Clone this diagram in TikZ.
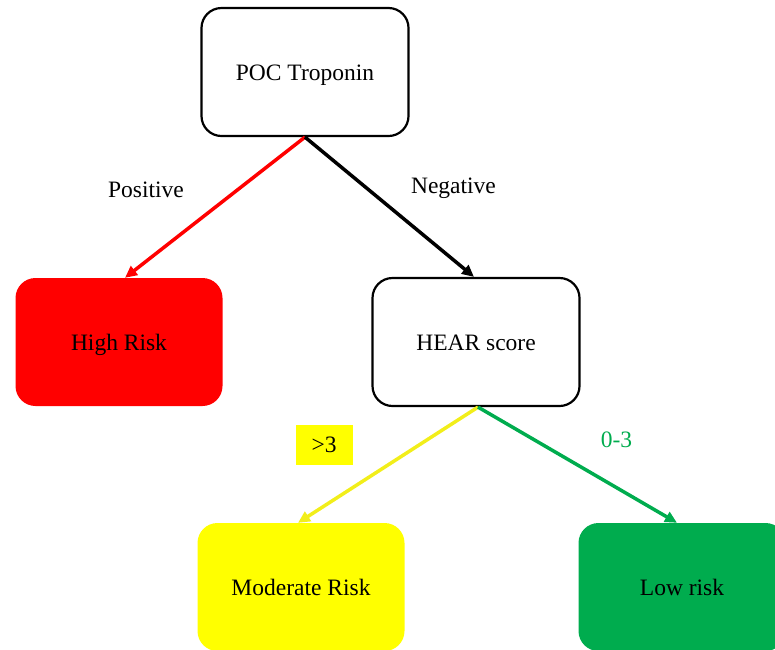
\documentclass[tikz,border=0pt]{standalone}
\usepackage{fontspec}
\setmainfont{Liberation Serif}
\usepackage{xcolor}
\usepackage{tikz}
\usetikzlibrary{positioning,arrows.meta}
\definecolor{riskred}{HTML}{FF0000}
\definecolor{riskyellow}{HTML}{FFFF00}
\definecolor{riskgreen}{HTML}{00AC4E}
\definecolor{lineyellow}{HTML}{F2EE1A}

\begin{document}
\begin{tikzpicture}[
			x=1pt, y=-1pt,
			font=\fontsize{23.5}{28}\selectfont,
			box/.style={rectangle, rounded corners=20pt, minimum width=207pt, minimum height=128pt, text height=20pt, text depth=3pt, align=center},
			plain/.style={box, draw=black, line width=2.2pt, fill=white},
			flow/.style={line width=3.5pt, -{Triangle[length=12pt,width=11pt]}},
			node distance=270pt and 186pt, on grid,
		]

			\useasboundingbox (0,0) rectangle (775,649);

			\node[plain] (troponin) at (305,72) {POC Troponin};
			\node[box, fill=riskred] (highrisk) [below left=270pt and 186pt of troponin] {High Risk};
			\node[plain] (hear) [below right=270pt and 171pt of troponin] {HEAR score};
			\node[box, fill=riskyellow] (moderate) [below left=245pt and 175pt of hear] {Moderate Risk};
			\node[box, fill=riskgreen] (lowrisk) [below right=245pt and 206pt of hear] {Low risk};

			\draw[flow, riskred] (troponin.south) -- ([xshift=6pt]highrisk.north) node[midway, xshift=-69pt, yshift=18pt, text=black] (positive) {Positive};
			\draw[flow, black] (troponin.south) -- ([xshift=-2pt]hear.north) node[midway, xshift=64pt, yshift=19pt] (negative) {Negative};
			\draw[flow, lineyellow] ([xshift=2pt]hear.south) -- ([xshift=-3pt]moderate.north) node[midway, xshift=-64pt, yshift=20pt, fill=riskyellow, text=black, minimum width=57pt, minimum height=40pt] (over) {>3};
			\draw[flow, riskgreen] ([xshift=2pt]hear.south) -- ([xshift=-5pt]lowrisk.north) node[midway, xshift=39pt, yshift=25pt] (under) {0-3};

		\end{tikzpicture}
\end{document}
